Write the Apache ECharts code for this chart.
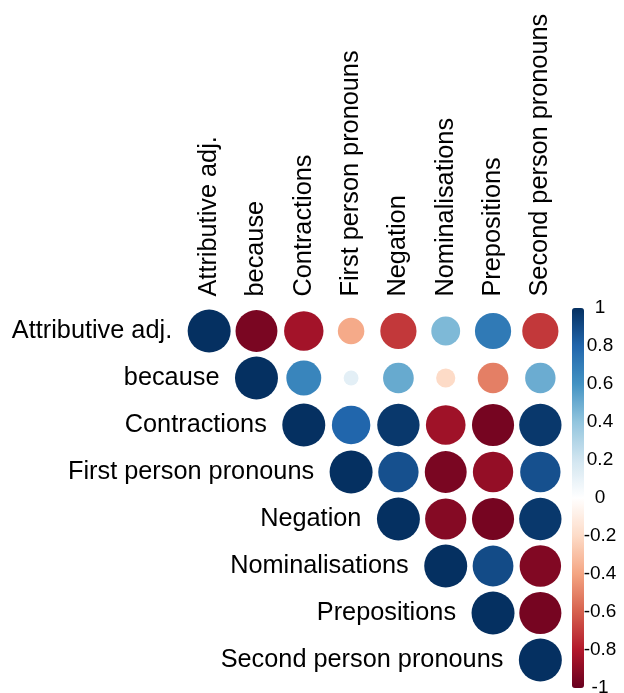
<!DOCTYPE html>
<html>
<head>
<meta charset="utf-8">
<script src="https://cdn.jsdelivr.net/npm/echarts@6/dist/echarts.min.js"></script>
<style>html,body{margin:0;padding:0;background:#fff;}#c{width:624px;height:693px;}</style>
</head>
<body>
<div id="c"></div>
<script>
// Variables (row / column order)
var categories = ['Attributive adj.', 'because', 'Contractions', 'First person pronouns', 'Negation', 'Nominalisations', 'Prepositions', 'Second person pronouns'];

// Upper-triangle correlations, each row starts at its diagonal
var rowAttributive    = [1, -0.95, -0.84, -0.38, -0.71, 0.45, 0.71, -0.71];
var rowBecause        = [1, 0.66, 0.12, 0.51, -0.2, -0.51, 0.5];
var rowContractions   = [1, 0.8, 0.97, -0.85, -0.96, 0.97];
var rowFirstPerson    = [1, 0.88, -0.95, -0.88, 0.88];
var rowNegation       = [1, -0.92, -0.96, 0.97];
var rowNominalisation = [1, 0.9, -0.93];
var rowPrepositions   = [1, -0.96];
var rowSecondPerson   = [1];

var colorbarTicks = [-1, -0.8, -0.6, -0.4, -0.2, 0, 0.2, 0.4, 0.6, 0.8, 1];

var rows = [rowAttributive, rowBecause, rowContractions, rowFirstPerson, rowNegation, rowNominalisation, rowPrepositions, rowSecondPerson];
var cells = [];
rows.forEach(function (r, i) {
  r.forEach(function (v, k) { cells.push([i + k, i, v]); });
});
var diag = categories.map(function (c, i) { return [i, i, c]; });

var RdBu = ['#67001F', '#B2182B', '#D6604D', '#F4A582', '#FDDBC7', '#FFFFFF', '#D1E5F0', '#92C5DE', '#4393C3', '#2166AC', '#053061'];
var font = 'Liberation Sans, Arial, Helvetica, sans-serif';

var chart = echarts.init(document.getElementById('c'), null, {renderer: 'canvas'});
chart.setOption({
  animation: false,
  backgroundColor: '#ffffff',
  grid: [
    {left: 185.5, right: 60, top: 307.5, bottom: 9.5, outerBoundsMode: 'none', containLabel: false},
    {left: 572, width: 12, top: 308, height: 380, outerBoundsMode: 'none', containLabel: false}
  ],
  xAxis: [
    {type: 'category', gridIndex: 0, data: categories, position: 'top',
     axisLine: {show: false}, axisTick: {show: false}, splitLine: {show: false},
     axisLabel: {rotate: -90, margin: 11, fontSize: 25.3, color: '#000', fontFamily: font, interval: 0}},
    {type: 'category', gridIndex: 1, data: [''], show: false}
  ],
  yAxis: [
    {type: 'category', gridIndex: 0, data: categories, inverse: true,
     axisLine: {show: false}, axisTick: {show: false}, splitLine: {show: false}, axisLabel: {show: false}},
    {type: 'value', gridIndex: 1, min: -1, max: 1, interval: 0.2, position: 'right',
     axisLine: {show: false}, axisTick: {show: false}, splitLine: {show: false},
     axisLabel: {align: 'center', margin: 16, fontSize: 19, color: '#000', fontFamily: font,
       customValues: colorbarTicks}}
  ],
  visualMap: {
    type: 'continuous', min: -1, max: 1, dimension: 2, seriesIndex: 0,
    calculable: false, hoverLink: false, left: 572, top: 308, itemWidth: 12, itemHeight: 380,
    padding: 0, inRange: {color: RdBu}
  },
  series: [
    {type: 'scatter', xAxisIndex: 0, yAxisIndex: 0, data: cells, silent: true,
     itemStyle: {opacity: 1},
     symbolSize: function (v) { return 43 * Math.sqrt(Math.abs(v[2])); }},
    {type: 'scatter', xAxisIndex: 0, yAxisIndex: 0, data: diag, silent: true, symbolSize: 0,
     itemStyle: {opacity: 1},
     label: {show: true, position: 'left', distance: 37, fontSize: 25.3, color: '#000', opacity: 1, fontFamily: font,
       formatter: function (p) { return p.value[2]; }}},
    {type: 'scatter', xAxisIndex: 1, yAxisIndex: 1, data: [], silent: true}
  ]
});
</script>
</body>
</html>
